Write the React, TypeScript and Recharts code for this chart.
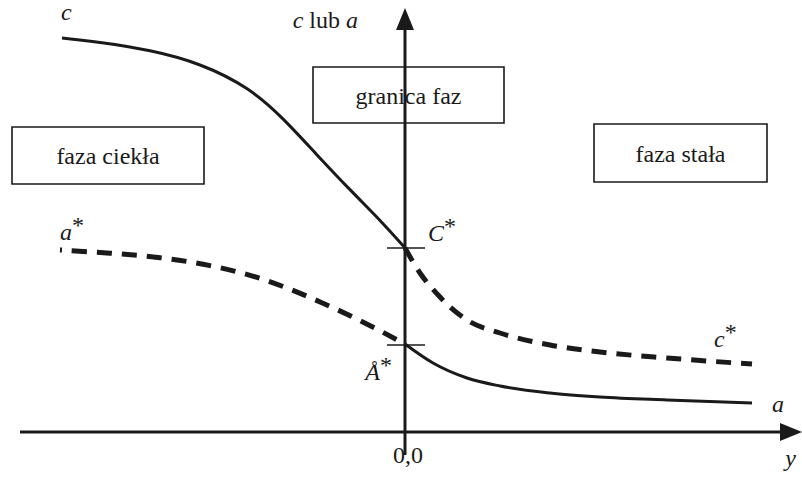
import React from "react";
import {
  LineChart,
  Line,
  XAxis,
  YAxis,
  ReferenceLine,
  ReferenceArea,
  ReferenceDot,
  Label,
} from "recharts";

// profile of c (liquid side solid, solid side dashed)
const cLiquid = [
  { x: -343, v: 394 },
  { x: -305, v: 390 },
  { x: -255, v: 382 },
  { x: -205, v: 369 },
  { x: -155, v: 344 },
  { x: -122, v: 314 },
  { x: -88, v: 277 },
  { x: -55, v: 242 },
  { x: -22, v: 209 },
  { x: 0, v: 184 },
];
const cSolid = [
  { x: 0, v: 184 },
  { x: 15, v: 159 },
  { x: 35, v: 135 },
  { x: 62, v: 112 },
  { x: 95, v: 99 },
  { x: 145, v: 87 },
  { x: 195, v: 80 },
  { x: 262, v: 74 },
  { x: 347, v: 68 },
];
// profile of a (liquid side dashed, solid side solid)
const aLiquid = [
  { x: -345, v: 182 },
  { x: -295, v: 179 },
  { x: -245, v: 175 },
  { x: -195, v: 167 },
  { x: -145, v: 155 },
  { x: -95, v: 135 },
  { x: -45, v: 112 },
  { x: 0, v: 88 },
];
const aSolid = [
  { x: 0, v: 88 },
  { x: 28, v: 69 },
  { x: 62, v: 54 },
  { x: 95, v: 46 },
  { x: 145, v: 39 },
  { x: 195, v: 35 },
  { x: 262, v: 32 },
  { x: 347, v: 29 },
];

const font = "'Liberation Serif', 'Times New Roman', serif";
const ink = "#1a1a1a";

const txt = (content: React.ReactNode, dx: number, dy: number, anchor = "start") =>
  (p: any) => (
    <text
      x={p.cx + dx}
      y={p.cy + dy}
      textAnchor={anchor}
      fontSize={24}
      fill={ink}
      fontFamily={font}
    >
      {content}
    </text>
  );

const upArrow = (p: any) => (
  <path d={`M${p.cx},${p.cy} L${p.cx - 9},${p.cy + 22} L${p.cx + 9},${p.cy + 22} Z`} fill={ink} />
);
const rightArrow = (p: any) => (
  <path d={`M${p.cx},${p.cy} L${p.cx - 22},${p.cy - 9} L${p.cx - 22},${p.cy + 9} Z`} fill={ink} />
);

const boxLabel = (value: string) => (
  <Label value={value} position="center" fill={ink} fontSize={24} fontFamily={font} />
);

const hiddenDot = { r: 0, fill: "none", stroke: "none" };

export default function App() {
  return (
    <div style={{ position: "absolute", left: 0, top: 0, background: "#fff" }}>
      <LineChart width={802} height={477} margin={{ top: 0, right: 0, bottom: 0, left: 0 }}>
        <XAxis type="number" dataKey="x" domain={[-405, 397]} hide allowDataOverflow />
        <YAxis type="number" domain={[-45, 432]} hide allowDataOverflow width={0} />

        <ReferenceArea x1={-393} x2={-201} y1={248} y2={305} fill="#fff" fillOpacity={1} stroke={ink} strokeWidth={1.6}>
          {boxLabel("faza ciekła")}
        </ReferenceArea>
        <ReferenceArea x1={-92} x2={99} y1={309} y2={365} fill="#fff" fillOpacity={1} stroke={ink} strokeWidth={1.6}>
          {boxLabel("granica faz")}
        </ReferenceArea>
        <ReferenceArea x1={189} x2={362} y1={250} y2={308} fill="#fff" fillOpacity={1} stroke={ink} strokeWidth={1.6}>
          {boxLabel("faza stała")}
        </ReferenceArea>

        <ReferenceLine segment={[{ x: -385, y: 0 }, { x: 378, y: 0 }]} stroke={ink} strokeWidth={3} />
        <ReferenceLine segment={[{ x: 0, y: -23 }, { x: 0, y: 405 }]} stroke={ink} strokeWidth={3} />
        <ReferenceLine segment={[{ x: -18, y: 184 }, { x: 20, y: 184 }]} stroke={ink} strokeWidth={1.6} />
        <ReferenceLine segment={[{ x: -18, y: 87 }, { x: 20, y: 87 }]} stroke={ink} strokeWidth={1.6} />

        <Line data={cLiquid} dataKey="v" type="basis" stroke={ink} strokeWidth={3} dot={false} activeDot={false} isAnimationActive={false} />
        <Line data={cSolid} dataKey="v" type="monotone" stroke={ink} strokeWidth={5} strokeDasharray="15 10" strokeLinecap="butt" dot={false} activeDot={false} isAnimationActive={false} />
        <Line data={aLiquid} dataKey="v" type="basis" stroke={ink} strokeWidth={5} strokeDasharray="15 10" strokeDashoffset={13} strokeLinecap="butt" dot={false} activeDot={false} isAnimationActive={false} />
        <Line data={aSolid} dataKey="v" type="monotone" stroke={ink} strokeWidth={3} dot={false} activeDot={false} isAnimationActive={false} />

        <ReferenceDot x={0} y={424} {...hiddenDot} shape={upArrow} />
        <ReferenceDot x={397} y={0} {...hiddenDot} shape={rightArrow} />

        <ReferenceDot x={-343} y={420} {...hiddenDot} shape={txt(<tspan fontStyle="italic">c</tspan>, -1, 8)} />
        <ReferenceDot
          x={0}
          y={424}
          {...hiddenDot}
          shape={txt(
            <>
              <tspan fontStyle="italic">c</tspan> lub <tspan fontStyle="italic">a</tspan>
            </>,
            -47,
            20,
            "end"
          )}
        />
        <ReferenceDot
          x={-345}
          y={200}
          {...hiddenDot}
          shape={txt(
            <>
              <tspan fontStyle="italic">a</tspan>
              <tspan dy={-7}>*</tspan>
            </>,
            0,
            8
          )}
        />
        <ReferenceDot
          x={0}
          y={184}
          {...hiddenDot}
          shape={txt(
            <>
              <tspan fontStyle="italic">C</tspan>
              <tspan dy={-7}>*</tspan>
            </>,
            23,
            -7
          )}
        />
        <ReferenceDot
          x={0}
          y={87}
          {...hiddenDot}
          shape={txt(
            <>
              <tspan fontStyle="italic">Å</tspan>
              <tspan dy={-7}>*</tspan>
            </>,
            -13,
            35,
            "end"
          )}
        />
        <ReferenceDot
          x={347}
          y={90}
          {...hiddenDot}
          shape={txt(
            <>
              <tspan fontStyle="italic">c</tspan>
              <tspan dy={-7}>*</tspan>
            </>,
            -38,
            5
          )}
        />
        <ReferenceDot x={347} y={20} {...hiddenDot} shape={txt(<tspan fontStyle="italic">a</tspan>, 20, 0)} />
        <ReferenceDot x={0} y={-20} {...hiddenDot} shape={txt("0,0", 3, 11, "middle")} />
        <ReferenceDot x={397} y={-20} {...hiddenDot} shape={txt(<tspan fontStyle="italic">y</tspan>, -6, 14, "end")} />
      </LineChart>
    </div>
  );
}
